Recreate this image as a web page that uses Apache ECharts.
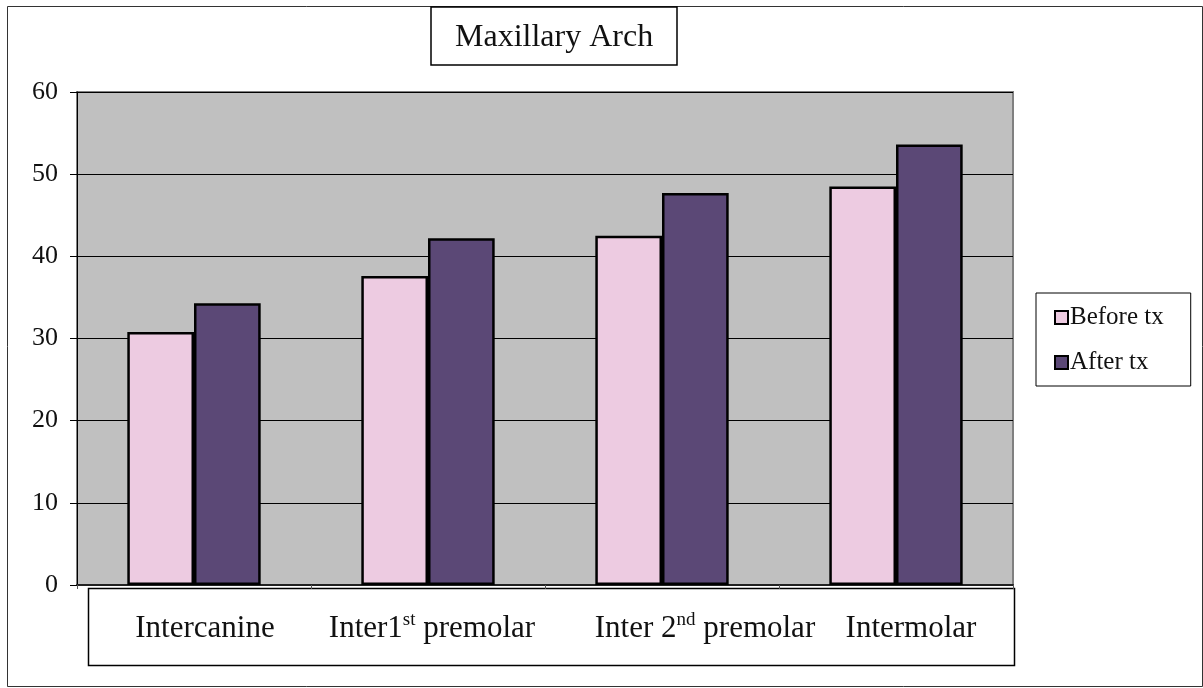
<!DOCTYPE html>
<html>
<head>
<meta charset="utf-8">
<script src="https://cdn.jsdelivr.net/npm/echarts@6/dist/echarts.min.js"></script>
<style>
html,body{margin:0;padding:0;background:#fff;}
#chart{width:1203px;height:688px;}
</style>
</head>
<body>
<div id="chart"></div>
<script>
// ---- data ----
var titleText = 'Maxillary Arch';
var categories = ['Intercanine', 'Inter1st premolar', 'Inter 2nd premolar', 'Intermolar'];
var categoryLabels = ['Intercanine', 'Inter1{sup|st} premolar', 'Inter 2{sup|nd} premolar', 'Intermolar'];
var seriesNames = ['Before tx', 'After tx'];
var beforeTx = [30.8, 37.6, 42.5, 48.5];
var afterTx = [34.3, 42.2, 47.7, 53.6];
var yTicks = [0, 10, 20, 30, 40, 50, 60];

var labelPad = [22, 8, 86, 30];
var serif = '"Liberation Serif", "Times New Roman", serif';

var chart = echarts.init(document.getElementById('chart'), null, {renderer: 'canvas'});
var option = {
  backgroundColor: '#ffffff',
  animation: false,
  title: {
    text: titleText,
    left: 431, top: 7,
    padding: [15, 24, 11, 24],
    borderColor: '#000', borderWidth: 1.5,
    textStyle: {fontFamily: serif, fontWeight: 'normal', fontSize: 32, color: '#111', lineHeight: 32}
  },
  legend: {
    orient: 'vertical',
    left: 1036, top: 293,
    padding: [12, 27, 11, 18],
    itemGap: 20,
    itemWidth: 13, itemHeight: 13,
    itemStyle: {borderColor: '#000', borderWidth: 2},
    icon: 'rect',
    borderColor: '#000', borderWidth: 1,
    textStyle: {fontFamily: serif, fontSize: 25, color: '#111', lineHeight: 24, padding: [0,0,0,-3]},
    data: seriesNames
  },
  grid: {
    left: 77, top: 92, right: 190, bottom: 103,
    show: true, backgroundColor: '#C0C0C0', borderColor: '#808080', borderWidth: 2
  },
  xAxis: {
    type: 'category',
    data: categories.map(function (c, i) {
      return {value: c, textStyle: {padding: [0, 0, 0, labelPad[i]]}};
    }),
    axisLine: {lineStyle: {color: '#222', width: 2}},
    axisTick: {show: true, interval: 0, length: 4, lineStyle: {color: '#555'}},
    axisLabel: {
      interval: 0,
      margin: 26,
      fontFamily: serif, fontSize: 31, lineHeight: 36, color: '#111',
      formatter: function (v, i) { return categoryLabels[i]; },
      rich: {sup: {fontFamily: serif, fontSize: 19, lineHeight: 16, verticalAlign: 'top', color: '#111'}}
    }
  },
  yAxis: {
    type: 'value',
    min: yTicks[0], max: yTicks[yTicks.length - 1], interval: yTicks[1] - yTicks[0],
    axisLine: {show: true, lineStyle: {color: '#000', width: 1}},
    axisTick: {show: true, length: 7, lineStyle: {color: '#000'}},
    splitLine: {show: true, lineStyle: {color: '#000', width: 1}},
    axisLabel: {margin: 19, fontFamily: serif, fontSize: 26, color: '#111'}
  },
  series: [
    {name: seriesNames[0], type: 'bar', data: beforeTx, barGap: '0%', barCategoryGap: '43%',
     itemStyle: {color: '#EDCBE1', borderColor: '#000', borderWidth: 2.5}},
    {name: seriesNames[1], type: 'bar', data: afterTx, barGap: '0%', barCategoryGap: '43%',
     itemStyle: {color: '#5B4876', borderColor: '#000', borderWidth: 2.5}}
  ],
  graphic: [
    {type: 'rect', silent: true, z: -10, shape: {x: 7.5, y: 6.5, width: 1195, height: 680},
     style: {fill: null, stroke: '#333', lineWidth: 1}},
    {type: 'rect', silent: true, z: -10, shape: {x: 88.5, y: 588.5, width: 926, height: 77},
     style: {fill: null, stroke: '#000', lineWidth: 1.5}}
  ]
};
chart.setOption(option);
</script>
</body>
</html>
